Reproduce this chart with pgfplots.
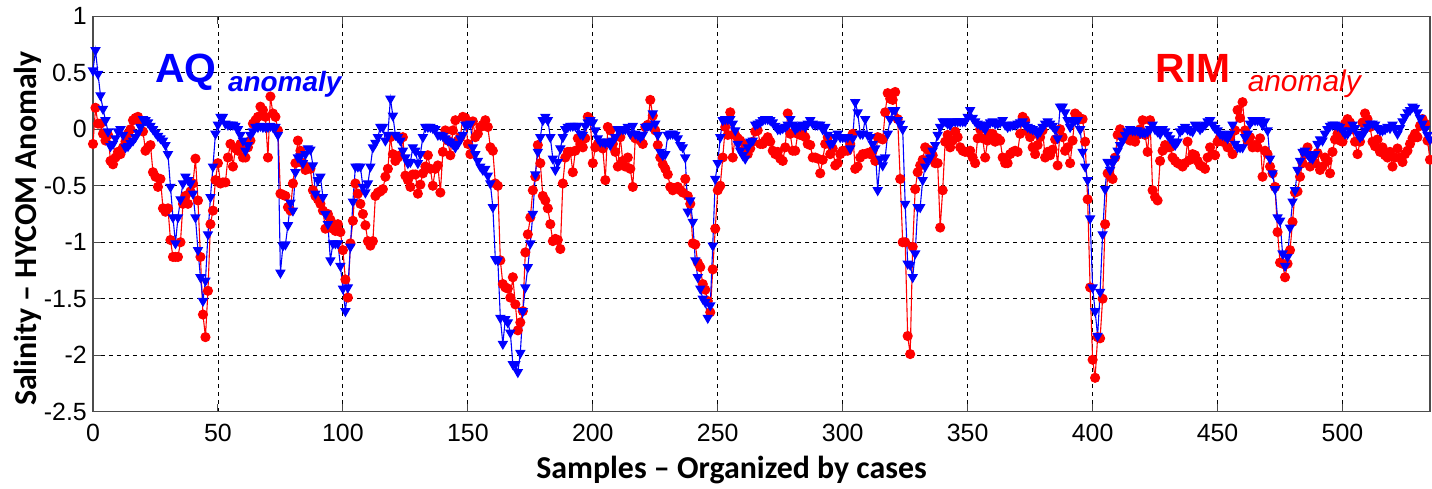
\documentclass[border=0pt]{standalone}
\usepackage{pgfplots}
\pgfplotsset{compat=1.18}
\usepackage{pgfplotstable}
\usepackage{fontspec}
\setmainfont{Liberation Sans}
\newfontfamily\calibri{Carlito}
\definecolor{mblue}{RGB}{0,0,255}
\definecolor{mred}{RGB}{255,0,0}

\pgfplotstableread{
x y
0 0.52
1 0.70
2 0.49
3 0.30
4 0.18
5 0.08
6 -0.02
7 -0.15
8 -0.13
9 -0.08
10 -0.02
11 0.00
12 -0.05
13 -0.16
14 -0.15
15 -0.12
16 -0.10
17 -0.07
18 -0.03
19 0.02
20 0.09
21 0.08
22 0.06
23 0.03
24 0.00
25 -0.03
26 -0.06
27 -0.08
28 -0.10
29 -0.14
30 -0.22
31 -0.51
32 -0.78
33 -1.01
34 -0.78
35 -0.62
36 -0.48
37 -0.42
38 -0.45
39 -0.48
40 -0.57
41 -0.78
42 -1.07
43 -1.31
44 -1.52
45 -1.34
46 -0.93
47 -0.60
48 -0.33
49 -0.04
50 0.04
51 0.11
52 0.11
53 0.05
54 0.04
55 0.04
56 0.04
57 0.03
58 0.00
59 -0.05
60 -0.10
61 -0.19
62 -0.14
63 -0.05
64 -0.02
65 0.02
66 0.02
67 0.03
68 0.02
69 0.02
70 0.02
71 0.03
72 0.02
73 0.02
74 -0.05
75 -1.27
76 -1.03
77 -1.02
78 -0.85
79 -0.65
80 -0.72
81 -0.38
82 -0.25
83 -0.24
84 -0.30
85 -0.22
86 -0.17
87 -0.18
88 -0.32
89 -0.57
90 -0.45
91 -0.42
92 -0.60
93 -0.75
94 -0.84
95 -1.16
96 -1.01
97 -1.01
98 -1.01
99 -1.21
100 -1.41
101 -1.61
102 -1.40
103 -1.04
104 -0.64
105 -0.33
106 -0.33
107 -0.33
108 -0.51
109 -0.56
110 -0.48
111 -0.33
112 -0.16
113 -0.12
114 -0.07
115 0.02
116 0.02
117 -0.10
118 -0.05
119 0.27
120 0.12
121 -0.05
122 -0.07
123 -0.10
124 -0.19
125 -0.25
126 -0.30
127 -0.29
128 -0.16
129 -0.19
130 -0.30
131 -0.22
132 -0.07
133 0.02
134 0.02
135 0.02
136 0.01
137 0.00
138 -0.05
139 -0.05
140 -0.06
141 -0.08
142 -0.10
143 -0.11
144 -0.13
145 -0.16
146 -0.13
147 -0.08
148 -0.05
149 0.04
150 0.04
151 0.05
152 -0.16
153 -0.22
154 -0.28
155 -0.33
156 -0.36
157 -0.35
158 -0.41
159 -0.48
160 -0.69
161 -1.15
162 -1.16
163 -1.67
164 -1.90
165 -1.68
166 -1.71
167 -1.80
168 -2.08
169 -2.08
170 -2.15
171 -1.98
172 -1.61
173 -1.40
174 -1.22
175 -1.01
176 -0.75
177 -0.40
178 -0.20
179 -0.07
180 0.08
181 0.11
182 0.08
183 -0.07
184 -0.26
185 -0.36
186 -0.29
187 -0.17
188 -0.07
189 0.00
190 0.02
191 0.03
192 0.03
193 0.03
194 0.03
195 -0.04
196 -0.05
197 0.03
198 0.06
199 0.08
200 0.06
201 -0.01
202 -0.08
203 -0.11
204 -0.11
205 -0.12
206 -0.11
207 -0.14
208 -0.10
209 -0.07
210 0.00
211 0.00
212 0.00
213 0.00
214 0.02
215 -0.04
216 0.03
217 -0.04
218 -0.05
219 -0.07
220 -0.05
221 0.02
222 0.03
223 0.03
224 0.14
225 0.05
226 -0.05
227 -0.20
228 -0.23
229 -0.22
230 -0.05
231 -0.04
232 -0.04
233 -0.05
234 -0.08
235 -0.14
236 -0.16
237 -0.25
238 -0.73
239 -0.63
240 -0.82
241 -1.16
242 -1.31
243 -1.41
244 -1.50
245 -1.53
246 -1.67
247 -1.56
248 -1.03
249 -0.44
250 -0.30
251 -0.07
252 0.08
253 0.09
254 0.09
255 0.09
256 0.05
257 -0.01
258 -0.13
259 -0.19
260 -0.23
261 -0.26
262 -0.16
263 -0.11
264 -0.10
265 0.04
266 0.05
267 0.06
268 0.08
269 0.09
270 0.09
271 0.08
272 0.06
273 0.03
274 0.00
275 0.00
276 0.01
277 0.02
278 0.04
279 0.09
280 0.04
281 0.00
282 0.02
283 0.03
284 0.04
285 0.02
286 0.05
287 0.08
288 0.05
289 0.04
290 0.04
291 0.04
292 0.00
293 0.02
294 -0.05
295 -0.13
296 -0.12
297 -0.07
298 -0.04
299 -0.07
300 -0.07
301 -0.07
302 -0.07
303 -0.17
304 -0.08
305 0.24
306 0.15
307 -0.04
308 -0.04
309 0.09
310 -0.05
311 -0.07
312 -0.13
313 -0.17
314 -0.54
315 -0.26
316 -0.32
317 -0.25
318 -0.04
319 0.09
320 0.17
321 0.17
322 0.08
323 0.05
324 0.00
325 -0.66
326 -1.19
327 -1.20
328 -1.31
329 -1.10
330 -0.69
331 -0.69
332 -0.45
333 -0.33
334 -0.28
335 -0.25
336 -0.19
337 -0.14
338 -0.05
339 0.02
340 0.07
341 0.07
342 0.05
343 0.04
344 0.07
345 0.07
346 0.07
347 0.07
348 0.07
349 0.07
350 0.11
351 0.17
352 0.10
353 0.07
354 0.05
355 0.04
356 0.03
357 0.00
358 0.04
359 0.06
360 0.07
361 0.05
362 0.05
363 0.06
364 0.08
365 0.04
366 0.02
367 0.03
368 0.04
369 0.04
370 0.05
371 0.06
372 0.07
373 0.04
374 0.02
375 0.01
376 0.00
377 -0.01
378 -0.04
379 -0.02
380 0.02
381 0.05
382 0.07
383 0.05
384 0.03
385 0.00
386 -0.08
387 0.20
388 0.20
389 0.15
390 0.08
391 0.02
392 0.07
393 0.08
394 0.08
395 0.00
396 -0.20
397 -0.33
398 -0.45
399 -0.79
400 -1.40
401 -1.61
402 -1.83
403 -1.44
404 -0.93
405 -0.53
406 -0.29
407 -0.36
408 -0.30
409 -0.26
410 -0.19
411 -0.14
412 -0.10
413 -0.05
414 -0.02
415 0.00
416 -0.01
417 -0.01
418 -0.01
419 -0.03
420 -0.03
421 -0.03
422 -0.02
423 0.00
424 0.04
425 0.00
426 -0.02
427 -0.04
428 0.00
429 -0.02
430 -0.05
431 -0.08
432 -0.11
433 -0.14
434 -0.11
435 -0.02
436 0.00
437 0.02
438 0.00
439 -0.01
440 -0.02
441 0.04
442 0.03
443 0.00
444 0.02
445 0.04
446 0.07
447 0.08
448 0.04
449 0.01
450 -0.01
451 -0.04
452 -0.05
453 -0.06
454 -0.08
455 -0.04
456 0.04
457 -0.13
458 -0.16
459 -0.16
460 -0.16
461 -0.07
462 -0.04
463 0.05
464 0.08
465 0.08
466 0.08
467 0.08
468 0.04
469 0.07
470 -0.01
471 -0.26
472 -0.39
473 -0.53
474 -0.78
475 -0.81
476 -1.10
477 -1.21
478 -1.13
479 -0.87
480 -0.64
481 -0.54
482 -0.36
483 -0.28
484 -0.20
485 -0.19
486 -0.22
487 -0.25
488 -0.26
489 -0.22
490 -0.13
491 -0.09
492 -0.10
493 -0.04
494 0.00
495 0.03
496 0.04
497 0.04
498 0.03
499 0.02
500 -0.01
501 -0.04
502 -0.04
503 -0.01
504 0.04
505 0.01
506 -0.04
507 -0.07
508 -0.05
509 -0.01
510 0.02
511 0.05
512 0.05
513 0.04
514 0.01
515 -0.01
516 -0.01
517 0.00
518 0.02
519 0.01
520 0.04
521 0.01
522 -0.04
523 0.01
524 0.07
525 0.11
526 0.15
527 0.17
528 0.20
529 0.19
530 0.15
531 0.10
532 0.05
533 0.00
534 -0.05
535 -0.09
}\aqdata

\pgfplotstableread{
x y
0 -0.13
1 0.19
2 0.05
3 0.05
4 -0.04
5 -0.10
6 -0.05
7 -0.28
8 -0.31
9 -0.25
10 -0.20
11 -0.22
12 -0.16
13 -0.11
14 -0.04
15 0.00
16 0.08
17 0.10
18 0.11
19 0.06
20 -0.02
21 -0.19
22 -0.16
23 -0.14
24 -0.38
25 -0.42
26 -0.51
27 -0.44
28 -0.70
29 -0.73
30 -0.70
31 -0.98
32 -1.13
33 -1.13
34 -1.13
35 -1.00
36 -0.66
37 -0.59
38 -0.66
39 -0.55
40 -0.48
41 -0.26
42 -0.63
43 -1.13
44 -1.64
45 -1.84
46 -1.43
47 -0.84
48 -0.72
49 -0.45
50 -0.30
51 -0.48
52 -0.47
53 -0.47
54 -0.25
55 -0.13
56 -0.33
57 -0.17
58 -0.19
59 -0.13
60 -0.25
61 -0.25
62 -0.16
63 -0.10
64 0.05
65 0.08
66 0.11
67 0.20
68 0.17
69 0.11
70 -0.25
71 0.29
72 0.14
73 0.11
74 -0.01
75 -0.57
76 -0.58
77 -0.59
78 -0.69
79 -0.72
80 -0.48
81 -0.30
82 -0.10
83 -0.19
84 -0.30
85 -0.36
86 -0.34
87 -0.35
88 -0.54
89 -0.59
90 -0.62
91 -0.66
92 -0.72
93 -0.88
94 -0.75
95 -0.80
96 -0.88
97 -0.90
98 -0.84
99 -0.91
100 -1.07
101 -1.33
102 -1.49
103 -1.01
104 -0.81
105 -0.48
106 -0.57
107 -0.66
108 -0.75
109 -0.85
110 -0.99
111 -1.03
112 -0.99
113 -0.59
114 -0.56
115 -0.55
116 -0.53
117 -0.42
118 -0.35
119 -0.07
120 -0.22
121 -0.28
122 -0.25
123 -0.23
124 -0.07
125 -0.41
126 -0.45
127 -0.51
128 -0.40
129 -0.40
130 -0.57
131 -0.49
132 -0.39
133 -0.33
134 -0.23
135 -0.35
136 -0.50
137 -0.35
138 -0.32
139 -0.56
140 -0.20
141 -0.01
142 -0.10
143 -0.23
144 -0.01
145 0.08
146 -0.10
147 -0.07
148 0.11
149 0.10
150 -0.13
151 -0.22
152 0.07
153 -0.07
154 -0.04
155 0.02
156 0.04
157 0.08
158 0.02
159 -0.16
160 -0.19
161 -0.48
162 -0.50
163 -1.16
164 -1.37
165 -1.40
166 -1.41
167 -1.49
168 -1.31
169 -1.55
170 -1.78
171 -1.71
172 -1.61
173 -1.09
174 -0.93
175 -0.78
176 -0.54
177 -0.42
178 -0.14
179 -0.30
180 -0.59
181 -0.63
182 -0.70
183 -0.84
184 -0.99
185 -0.97
186 -0.98
187 -1.06
188 -0.48
189 -0.25
190 -0.20
191 -0.20
192 -0.38
193 -0.19
194 -0.08
195 -0.13
196 -0.16
197 -0.08
198 0.11
199 0.08
200 -0.30
201 -0.16
202 -0.13
203 -0.14
204 -0.17
205 -0.45
206 0.02
207 -0.01
208 -0.13
209 -0.20
210 -0.33
211 -0.07
212 -0.28
213 -0.33
214 -0.25
215 -0.35
216 -0.51
217 -0.08
218 -0.07
219 -0.10
220 -0.13
221 0.02
222 0.04
223 0.26
224 0.12
225 -0.01
226 -0.14
227 -0.25
228 -0.31
229 -0.35
230 -0.40
231 -0.51
232 -0.54
233 -0.52
234 -0.51
235 -0.54
236 -0.56
237 -0.44
238 -0.59
239 -0.66
240 -1.01
241 -1.02
242 -1.18
243 -1.22
244 -1.37
245 -1.42
246 -1.52
247 -1.62
248 -1.24
249 -0.88
250 -0.54
251 -0.50
252 -0.25
253 0.02
254 -0.05
255 0.15
256 -0.25
257 -0.05
258 -0.08
259 -0.10
260 -0.19
261 -0.14
262 -0.22
263 -0.17
264 -0.11
265 -0.02
266 -0.01
267 -0.13
268 -0.13
269 -0.10
270 -0.07
271 -0.11
272 -0.19
273 -0.22
274 -0.20
275 -0.26
276 -0.28
277 -0.16
278 0.14
279 -0.04
280 -0.19
281 -0.19
282 -0.04
283 -0.05
284 -0.04
285 -0.07
286 -0.13
287 -0.14
288 -0.25
289 -0.25
290 -0.26
291 -0.39
292 -0.27
293 -0.13
294 -0.07
295 -0.22
296 -0.17
297 -0.32
298 -0.30
299 -0.22
300 -0.19
301 -0.19
302 -0.19
303 -0.13
304 -0.04
305 -0.35
306 -0.33
307 -0.25
308 -0.22
309 -0.22
310 -0.21
311 -0.22
312 -0.19
313 -0.28
314 -0.07
315 -0.08
316 -0.09
317 0.15
318 0.32
319 0.27
320 0.26
321 0.33
322 0.09
323 -0.44
324 -1.00
325 -1.00
326 -1.83
327 -1.99
328 -1.04
329 -0.53
330 -0.38
331 -0.32
332 -0.27
333 -0.16
334 -0.18
335 -0.19
336 -0.23
337 -0.30
338 -0.30
339 -0.87
340 -0.54
341 -0.11
342 -0.05
343 -0.16
344 -0.10
345 -0.02
346 -0.07
347 -0.16
348 -0.19
349 -0.20
350 -0.20
351 -0.19
352 -0.25
353 -0.30
354 -0.08
355 0.00
356 -0.08
357 -0.25
358 -0.10
359 -0.04
360 -0.04
361 -0.11
362 -0.08
363 -0.10
364 -0.25
365 -0.30
366 -0.30
367 -0.22
368 -0.20
369 -0.19
370 -0.20
371 -0.04
372 0.11
373 0.08
374 -0.02
375 -0.07
376 -0.16
377 -0.22
378 -0.14
379 -0.07
380 -0.01
381 -0.25
382 -0.20
383 -0.23
384 -0.18
385 -0.09
386 -0.32
387 0.00
388 -0.07
389 -0.19
390 -0.16
391 -0.30
392 -0.10
393 0.14
394 0.12
395 0.09
396 0.09
397 -0.11
398 -0.62
399 -1.40
400 -2.04
401 -2.20
402 -1.84
403 -1.85
404 -1.50
405 -0.84
406 -0.39
407 -0.41
408 -0.44
409 -0.25
410 -0.05
411 0.00
412 -0.04
413 -0.08
414 -0.07
415 -0.10
416 -0.07
417 -0.11
418 -0.05
419 0.00
420 0.08
421 -0.05
422 -0.20
423 0.08
424 -0.54
425 -0.60
426 -0.63
427 -0.28
428 -0.19
429 -0.14
430 -0.16
431 -0.16
432 -0.25
433 -0.28
434 -0.30
435 -0.31
436 -0.33
437 -0.30
438 -0.11
439 -0.27
440 -0.22
441 -0.23
442 -0.28
443 -0.32
444 -0.33
445 -0.35
446 -0.25
447 -0.16
448 -0.22
449 -0.23
450 -0.11
451 -0.07
452 -0.11
453 -0.08
454 -0.16
455 -0.07
456 -0.22
457 -0.01
458 0.17
459 0.10
460 0.24
461 -0.01
462 -0.10
463 -0.07
464 -0.16
465 -0.14
466 -0.16
467 -0.08
468 -0.42
469 -0.19
470 -0.22
471 -0.33
472 -0.39
473 -0.51
474 -0.91
475 -1.18
476 -1.19
477 -1.31
478 -1.19
479 -1.07
480 -0.82
481 -0.56
482 -0.55
483 -0.42
484 -0.30
485 -0.22
486 -0.16
487 -0.33
488 -0.25
489 -0.30
490 -0.21
491 -0.36
492 -0.33
493 -0.25
494 -0.28
495 -0.39
496 -0.20
497 -0.09
498 -0.04
499 -0.10
500 -0.11
501 0.05
502 0.09
503 0.06
504 0.00
505 -0.11
506 -0.22
507 -0.11
508 0.06
509 0.14
510 0.09
511 0.02
512 -0.11
513 -0.15
514 -0.09
515 -0.20
516 -0.16
517 -0.23
518 -0.25
519 -0.20
520 -0.33
521 -0.25
522 -0.17
523 -0.25
524 -0.29
525 -0.22
526 -0.19
527 -0.13
528 -0.08
529 -0.04
530 -0.07
531 0.03
532 0.09
533 0.05
534 -0.10
535 -0.27
}\rimdata

\begin{document}
\begin{tikzpicture}
\useasboundingbox (-93bp,-77.3bp) rectangle (1339bp,411.7bp);
\begin{axis}[
  scale only axis,
  width=1337bp, height=395.4bp,
  xmin=0, xmax=535, ymin=-2.5, ymax=1,
  xtick={0,50,100,150,200,250,300,350,400,450,500},
  xticklabels={0,50,100,150,200,250,300,350,400,450,500},
  ytick={-2.5,-2,-1.5,-1,-0.5,0,0.5,1},
  yticklabels={-2.5,-2,-1.5,-1,-0.5,0,0.5,1},
  tick align=inside,
  major tick length=8bp,
  tick style={black!70, line width=1bp},
  axis line style={black!70, line width=1.3bp},
  grid=major,
  major grid style={black, line width=0.9bp, dash pattern=on 4bp off 4bp},
  ticklabel style={font=\fontsize{25}{30}\selectfont, inner sep=0pt},
  xticklabel style={yshift=-12bp},
  yticklabel style={xshift=-6bp},
  xlabel={Samples – Organized by cases},
  ylabel={Salinity – HYCOM Anomaly},
  xlabel style={font=\calibri\bfseries\fontsize{32}{34}\selectfont, at={(axis description cs:0.4776,-0.170)}, anchor=base},
  ylabel style={font=\calibri\bfseries\fontsize{32}{34}\selectfont, at={(axis description cs:-0.042,0.463)}, anchor=base},
]
\addplot[color=mred, line width=1.1bp, mark=*, mark size=4.5bp, mark options={fill=mred, draw=mred, solid}] table[x=x,y=y] {\rimdata};
\addplot[color=mblue, line width=1.1bp, mark=triangle*, mark size=5bp, mark options={fill=mblue, draw=mblue, rotate=180, solid}] table[x=x,y=y] {\aqdata};
\node[anchor=base west, text=mblue, font=\fontsize{41}{41}\selectfont\bfseries, inner sep=0pt] at (axis cs:24.8,0.417) {AQ};
\node[anchor=base west, text=mblue, font=\fontsize{28}{28}\selectfont\bfseries\itshape, inner sep=0pt] at (axis cs:54,0.331) {anomaly};
\node[anchor=base west, text=mred, font=\fontsize{41}{41}\selectfont\bfseries, inner sep=0pt] at (axis cs:425.1,0.417) {RIM};
\node[anchor=base west, text=mred, font=\fontsize{30}{30}\selectfont\itshape, inner sep=0pt] at (axis cs:462,0.331) {anomaly};
\end{axis}
\end{tikzpicture}
\end{document}
